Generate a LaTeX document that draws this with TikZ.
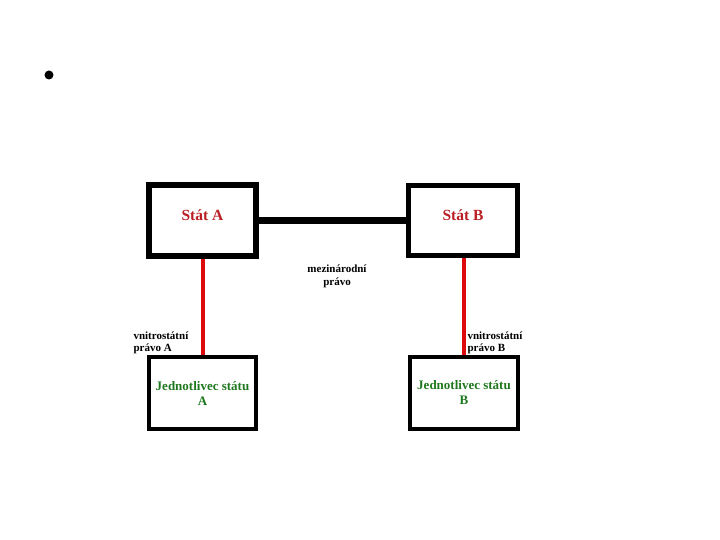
\documentclass[tikz,border=0pt]{standalone}
\usepackage{fontspec}
\setmainfont{Liberation Serif}
\usetikzlibrary{positioning}
\definecolor{statred}{RGB}{185,30,35}
\definecolor{osgreen}{RGB}{30,120,30}
\definecolor{linkred}{RGB}{220,10,10}

\begin{document}
\begin{tikzpicture}[x=1pt,y=-1pt]
  \useasboundingbox (0,0) rectangle (720,540);
  \fill (49,75) circle (4.5);
  % states
  \node[draw,line width=6pt,minimum width=107pt,minimum height=71pt,text depth=10pt,text=statred,font=\fontsize{15.5}{18}\selectfont\bfseries] (statA) at (202.5,220.5) {Stát A};
  \node[draw,line width=5pt,minimum width=109pt,minimum height=70pt,text depth=10pt,text=statred,font=\fontsize{15.5}{18}\selectfont\bfseries] (statB) at (463,220.5) {Stát B};
  % individuals
  \node[draw,line width=4pt,minimum width=107pt,minimum height=72pt,text=osgreen,align=center,font=\fontsize{13}{15}\selectfont\bfseries] (osA) at (202.5,393) {Jednotlivec státu\\A};
  \node[draw,line width=4pt,minimum width=108pt,minimum height=72pt,text=osgreen,align=center,font=\fontsize{13}{15}\selectfont\bfseries] (osB) at (464,393) {Jednotlivec státu\\B};
  \draw[line width=6.5pt] (statA) -- (statB);
  \draw[linkred,line width=4pt] (statA) -- (osA);
  \draw[linkred,line width=4pt] (statB.south -| osB) -- (osB);
  \node[align=center,font=\fontsize{11}{13}\selectfont\bfseries] (mezi) at (337,276) {mezinárodní\\právo};
  \node[anchor=west,align=left,font=\fontsize{11}{12.5}\selectfont\bfseries] (vnA) at (130,343) {vnitrostátní\\právo A};
  \node[anchor=west,align=left,font=\fontsize{11}{12.5}\selectfont\bfseries] (vnB) at (464,343) {vnitrostátní\\právo B};
\end{tikzpicture}
\end{document}
